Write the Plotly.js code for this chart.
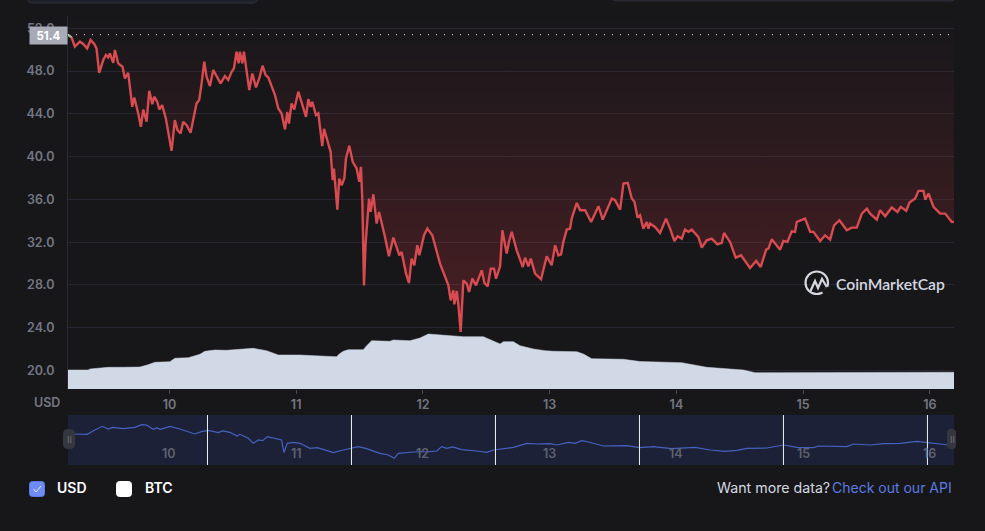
<!DOCTYPE html>
<html>
<head>
<meta charset="utf-8">
<script src="https://cdn.plot.ly/plotly-3.0.1.min.js"></script>
<style>html,body{margin:0;padding:0;background:#17171a;overflow:hidden}#c{width:985px;height:531px}</style>
</head>
<body>
<div id="c"></div>
<script>
const priceDays = [9.20,9.228,9.254,9.294,9.32,9.351,9.378,9.407,9.425,9.446,9.478,9.499,9.517,9.53,9.557,9.57,9.596,9.63,9.649,9.675,9.707,9.723,9.754,9.775,9.794,9.82,9.841,9.865,9.88,9.904,9.92,9.943,9.972,10.017,10.043,10.064,10.088,10.109,10.136,10.167,10.214,10.235,10.254,10.275,10.293,10.32,10.346,10.372,10.404,10.438,10.464,10.491,10.509,10.53,10.546,10.556,10.575,10.588,10.63,10.654,10.683,10.709,10.735,10.759,10.78,10.833,10.859,10.885,10.912,10.93,10.943,10.964,10.985,11.017,11.043,11.078,11.096,11.114,11.127,11.156,11.175,11.193,11.206,11.22,11.24,11.272,11.288,11.298,11.325,11.34,11.359,11.38,11.393,11.419,11.446,11.477,11.498,11.511,11.522,11.535,11.548,11.575,11.588,11.609,11.635,11.654,11.701,11.732,11.767,11.814,11.832,11.867,11.89,11.911,11.932,11.956,11.972,12.009,12.035,12.074,12.135,12.161,12.201,12.219,12.24,12.248,12.267,12.28,12.298,12.319,12.346,12.364,12.39,12.419,12.464,12.485,12.511,12.535,12.561,12.577,12.609,12.627,12.661,12.682,12.701,12.74,12.788,12.806,12.832,12.851,12.885,12.932,12.977,13.016,13.043,13.069,13.09,13.108,13.135,13.161,13.174,13.214,13.24,13.28,13.327,13.385,13.419,13.49,13.516,13.556,13.582,13.616,13.648,13.669,13.693,13.713,13.739,13.766,13.779,13.792,13.831,13.871,13.918,13.95,13.984,14.01,14.042,14.068,14.095,14.121,14.173,14.2,14.239,14.279,14.323,14.358,14.376,14.423,14.468,14.51,14.581,14.629,14.665,14.708,14.726,14.752,14.818,14.844,14.876,14.91,14.936,14.95,15.015,15.055,15.081,15.134,15.173,15.213,15.244,15.286,15.344,15.384,15.423,15.463,15.502,15.528,15.581,15.607,15.647,15.699,15.744,15.77,15.813,15.839,15.884,15.91,15.949,15.963,15.989,16.028,16.081,16.12,16.173,16.19];
const priceValues = [51.4,51.15,50.28,50.75,50.53,50.12,50.9,50.53,50.12,47.84,49.03,49.5,49.28,49.65,48.78,49.97,48.72,48.41,47.31,47.84,44.66,45.53,44.04,42.79,44.41,43.26,46.16,44.91,45.6,45.13,44.41,44.82,43.57,40.54,43.41,42.47,42.16,43.26,42.94,42.23,44.97,45.29,46.85,48.87,47.47,46.6,48.09,47.47,46.85,47.53,47.16,47.94,48.25,49.81,48.72,49.81,48.72,49.81,46.22,47.78,46.47,47.31,48.5,47.63,47.41,45.75,44.5,44.04,42.54,44.19,43.1,44.97,44.41,46.07,44.97,43.72,45.38,44.66,45.13,43.88,44.04,42.32,40.98,42.6,41.85,40.45,37.8,38.89,35.05,37.95,37.33,37.95,39.82,41.01,39.51,38.89,37.64,39.04,35.92,27.96,31.87,36.08,34.83,36.48,33.74,34.83,32.49,30.68,32.43,30.77,31.08,29.06,28.18,30.46,29.84,31.71,30.77,32.65,33.27,32.65,29.99,29.21,27.96,26.56,27.5,26.18,27.43,26.09,23.6,28.43,28.12,27.34,28.59,27.96,29.37,28.18,27.87,29.52,29.52,28.59,29.74,33.11,30.93,32.18,32.96,31.24,29.68,30.55,29.74,30.46,29.06,28.53,30.68,29.84,31.71,30.77,30.87,32.02,33.18,33.27,34.21,35.67,34.99,34.99,33.89,35.36,34.11,36.08,35.92,35.05,37.48,37.55,36.08,35.77,34.3,34.52,33.27,33.89,33.27,33.74,33.42,32.86,34.2,33.27,32.11,32.55,32.33,33.17,32.96,33.17,32.49,31.49,32.18,32.33,31.8,31.93,32.86,32.02,30.55,30.77,29.59,30.24,29.68,31.3,31.4,32.27,31.3,32.11,32.02,33.02,32.96,33.89,34.2,32.96,32.96,32.11,32.64,32.24,33.58,34.05,33.11,33.36,33.36,34.67,35.14,34.67,34.11,34.99,34.42,35.24,34.83,35.3,34.92,35.7,36.08,36.8,36.8,35.98,36.55,35.3,34.67,34.67,33.89,33.9];
const volumeDays = [9.2,9.359,9.373,9.451,9.517,9.636,9.767,9.825,9.886,10.004,10.043,10.149,10.241,10.28,10.359,10.451,10.583,10.662,10.767,10.859,10.951,11.03,11.188,11.319,11.34,11.372,11.411,11.53,11.556,11.596,11.74,11.767,11.898,11.977,12.043,12.188,12.319,12.477,12.556,12.609,12.635,12.714,12.766,12.872,12.964,13.03,13.214,13.266,13.332,13.582,13.713,13.818,14.042,14.239,14.423,14.529,14.621,16.19];
const volumeValues = [19,19,20,20.7,21.7,21.7,22,24,26.7,27.3,30.7,31.3,34.7,37.7,39,38.7,40.3,40.7,38.3,34,34,34,33,32.3,35,37.7,39.3,39.3,43.3,48.3,47.7,49,48.3,51,55,53.3,52.3,52.3,48.3,45,47.3,47.3,43.3,40,38.3,37.7,37.3,35,30.3,29.7,27.5,27,26.3,21.7,19.7,19,16.3,16.7];
const navDays = [9.246,9.351,9.412,9.472,9.517,9.551,9.635,9.728,9.78,9.82,9.872,9.899,9.93,10.004,10.083,10.201,10.254,10.306,10.385,10.42,10.477,10.535,10.556,10.622,10.662,10.701,10.735,10.772,10.885,10.904,10.93,10.977,11.03,11.109,11.167,11.293,11.372,11.438,11.49,11.556,11.661,11.727,11.774,11.806,11.924,12.056,12.109,12.148,12.188,12.235,12.306,12.424,12.503,12.556,12.609,12.714,12.819,12.898,13.003,13.056,13.148,13.201,13.253,13.306,13.424,13.608,13.708,13.819,13.963,14.148,14.266,14.384,14.477,14.556,14.713,14.845,14.95,15.082,15.121,15.24,15.345,15.397,15.529,15.634,15.766,15.897,15.976,16.055,16.147];
const navValues = [42.2,41.95,45.33,48.18,46.11,47.4,46.36,47.4,49.48,49.22,45.85,46.88,45.85,48.18,46.11,42.21,44.03,45.07,43.25,44.55,43.51,40.65,41.95,38.83,34.94,37.53,37.02,40.13,37.53,27.67,34.94,35.72,34.94,31.04,31.56,27.67,29.74,31.04,32.34,30.78,27.15,25.85,23.25,27.15,28.19,28.45,28.97,32.34,31.04,32.08,30,28.97,27.93,29.74,30.26,31.82,34.94,34.42,34.68,33.64,35.72,34.94,37.02,35.98,32.86,33.12,31.56,32.34,30.78,31.82,29.74,28.71,29.48,31.04,31.3,33.64,31.82,31.56,32.86,32.34,32.34,34.42,33.64,34.68,34.94,36.5,35.72,34.42,33.64];
const navMarks = [10.3005,11.4365,12.5725,13.7085,14.8445,15.9805];
const dayTicks = [10,11,12,13,14,15,16];
const priceTicks = [20,24,28,32,36,40,44,48,52];
const startPrice = 51.4;

const W = 985, H = 531;
const px = v => v / W, py = v => 1 - v / H;
const xRange = [9.2, 16.19];
const yRange = [18.27, 53.15];
const tickFont = {family: 'Inter, sans-serif', size: 12.5, color: '#747783', weight: 600};
const navFont = {family: 'Inter, sans-serif', size: 12.5, color: '#5f6271', weight: 600};

const rr = (x0, y0, x1, y1, r) => {
  const X = v => px(v), Y = v => py(v);
  return `M${X(x0 + r)},${Y(y0)} L${X(x1 - r)},${Y(y0)} Q${X(x1)},${Y(y0)} ${X(x1)},${Y(y0 + r)} L${X(x1)},${Y(y1 - r)} Q${X(x1)},${Y(y1)} ${X(x1 - r)},${Y(y1)} L${X(x0 + r)},${Y(y1)} Q${X(x0)},${Y(y1)} ${X(x0)},${Y(y1 - r)} L${X(x0)},${Y(y0 + r)} Q${X(x0)},${Y(y0)} ${X(x0 + r)},${Y(y0)} Z`;
};
const paperPath = (d, fill, line, width, layer) => ({type: 'path', xref: 'paper', yref: 'paper', path: d, fillcolor: fill, line: {color: line, width: width || 0}, layer: layer || 'above'});
const pl = pts => pts.map((p, i) => (i ? 'L' : 'M') + px(p[0]) + ',' + py(p[1])).join(' ');

const traces = [
  {x: xRange, y: [yRange[1], yRange[1]], mode: 'lines', line: {width: 0, color: 'rgba(0,0,0,0)'}, hoverinfo: 'skip', showlegend: false},
  {x: priceDays, y: priceValues, mode: 'lines', name: 'USD', fill: 'tonexty',
    fillgradient: {type: 'vertical', start: 53, stop: 24, colorscale: [[0, 'rgba(234,57,67,0)'], [1, 'rgba(234,57,67,0.24)']]},
    line: {color: '#d84b50', width: 2.4}, showlegend: false},
  {x: priceDays.slice(0, 2), y: priceValues.slice(0, 2), mode: 'lines', line: {color: '#7fc79a', width: 2}, showlegend: false, hoverinfo: 'skip'},
  {x: volumeDays, y: volumeValues, yaxis: 'y2', mode: 'lines', fill: 'tozeroy', fillcolor: '#d1d8e6', line: {color: '#d1d8e6', width: 0.5}, showlegend: false},
  {x: navDays, y: navValues, xaxis: 'x2', yaxis: 'y3', mode: 'lines', line: {color: '#4662c0', width: 1.2}, showlegend: false}
];

const shapes = [
  {type: 'rect', xref: 'paper', yref: 'paper', x0: px(68), x1: px(954), y0: py(465), y1: py(415), fillcolor: '#1c2137', line: {width: 0}, layer: 'below'},
  {type: 'line', xref: 'paper', yref: 'y', x0: px(68), x1: px(954), y0: startPrice, y1: startPrice, line: {color: '#e8e8ee', width: 1, dash: '1px,7px'}},
  paperPath(rr(27, -12, 258, 3, 6), '#1f2029', '#30313a', 1),
  paperPath(rr(612, -12, 955, 1, 4), '#1f2029', '#30313a', 1),
  paperPath(rr(63, 429, 75, 449, 5), '#36373e', '#36373e', 0),
  paperPath(rr(947, 429, 956, 449, 4), '#36373e', '#36373e', 0),
  paperPath(rr(29.5, 481.5, 44.5, 496.5, 3), '#6f8cf5', '#5d7ae8', 1),
  paperPath(pl([[33.5, 489], [36, 492], [41, 486]]), 'rgba(0,0,0,0)', '#e8ecfb', 1),
  paperPath(rr(116.5, 481.5, 131.5, 496.5, 3), '#ffffff', '#ffffff', 1),
  {type: 'circle', xref: 'paper', yref: 'paper', x0: px(805.5), x1: px(828), y0: py(294), y1: py(271.5), line: {color: '#d5d8e0', width: 2.2}},
  paperPath(pl([[823, 293], [828.5, 288]]), 'rgba(0,0,0,0)', '#17171a', 4),
  paperPath(pl([[810.5, 291], [815, 281], [818, 288], [822, 279], [826.5, 286.5]]), 'rgba(0,0,0,0)', '#d5d8e0', 2.2)
];
navMarks.forEach(d => shapes.push({type: 'line', xref: 'x2', yref: 'paper', x0: d, x1: d, y0: py(465), y1: py(415), line: {color: '#eef0f6', width: 1}}));

const ann = (text, x, y, o) => Object.assign({text, xref: 'paper', yref: 'paper', x: px(x), y: py(y), showarrow: false, xanchor: 'left', yanchor: 'middle', font: {family: 'Inter, sans-serif', size: 14, color: '#ffffff'}}, o || {});
const annotations = [
  ann('USD', 32, 402, {font: tickFont}),
  {text: '<b>' + startPrice.toFixed(1) + '</b>', xref: 'paper', yref: 'paper', x: px(68), y: py(35.5), xanchor: 'right', yanchor: 'middle', showarrow: false, bgcolor: '#a8abb6', width: 37, height: 17, borderpad: 0, font: {family: 'Inter, sans-serif', size: 11.5, color: '#ffffff'}},
  ann('USD', 55, 487.5, {font: {family: 'Inter, sans-serif', size: 14, color: '#ffffff', weight: 600}}),
  ann('BTC', 143, 487.5, {font: {family: 'Inter, sans-serif', size: 14, color: '#ffffff', weight: 600}}),
  ann('Want more data?', 715, 487.5, {font: {family: 'Inter, sans-serif', size: 14.2, color: '#d5d8e0'}}),
  ann('Check out our API', 954, 487.5, {xanchor: 'right', font: {family: 'Inter, sans-serif', size: 14, color: '#5b7be0'}}),
  ann('CoinMarketCap', 834, 284, {font: {family: 'Lato, sans-serif', size: 15.7, color: '#d5d8e0', weight: 600}}),
  ann('II', 69, 439, {xanchor: 'center', font: {family: 'Inter, sans-serif', size: 9, color: '#6e717d'}}),
  ann('II', 952, 439, {xanchor: 'center', font: {family: 'Inter, sans-serif', size: 9, color: '#6e717d'}})
];
dayTicks.forEach(d => annotations.push({text: String(d), xref: 'x2', yref: 'paper', x: d, y: py(453), showarrow: false, xanchor: 'center', yanchor: 'middle', font: navFont}));

const layout = {
  width: W, height: H, margin: {l: 0, r: 0, t: 0, b: 0},
  paper_bgcolor: '#17171a', plot_bgcolor: '#17171a', showlegend: false,
  xaxis: {domain: [px(68), px(954)], range: xRange, tickvals: dayTicks, ticktext: dayTicks.map(String), ticks: 'outside', ticklen: 4, tickcolor: '#4a4b55', tickfont: tickFont, showgrid: false, zeroline: false, showline: false, anchor: 'y'},
  yaxis: {domain: [py(389), py(16)], range: yRange, tickvals: priceTicks, ticktext: priceTicks.map(v => v.toFixed(1)), ticks: 'outside', ticklen: 10, tickcolor: 'rgba(0,0,0,0)', tickfont: tickFont, gridcolor: '#262730', gridwidth: 1, zeroline: false, showline: true, linecolor: '#2b2c35', linewidth: 1, anchor: 'x'},
  yaxis2: {domain: [py(389), py(16)], range: [0, 373], overlaying: 'y', visible: false, anchor: 'x'},
  xaxis2: {domain: [px(68), px(954)], range: xRange, visible: false, anchor: 'y3'},
  yaxis3: {domain: [py(465), py(415)], range: [18.05, 57], visible: false, anchor: 'x2'},
  shapes, annotations
};
Plotly.newPlot('c', traces, layout, {displayModeBar: false, responsive: false, staticPlot: true});
</script>
</body>
</html>
